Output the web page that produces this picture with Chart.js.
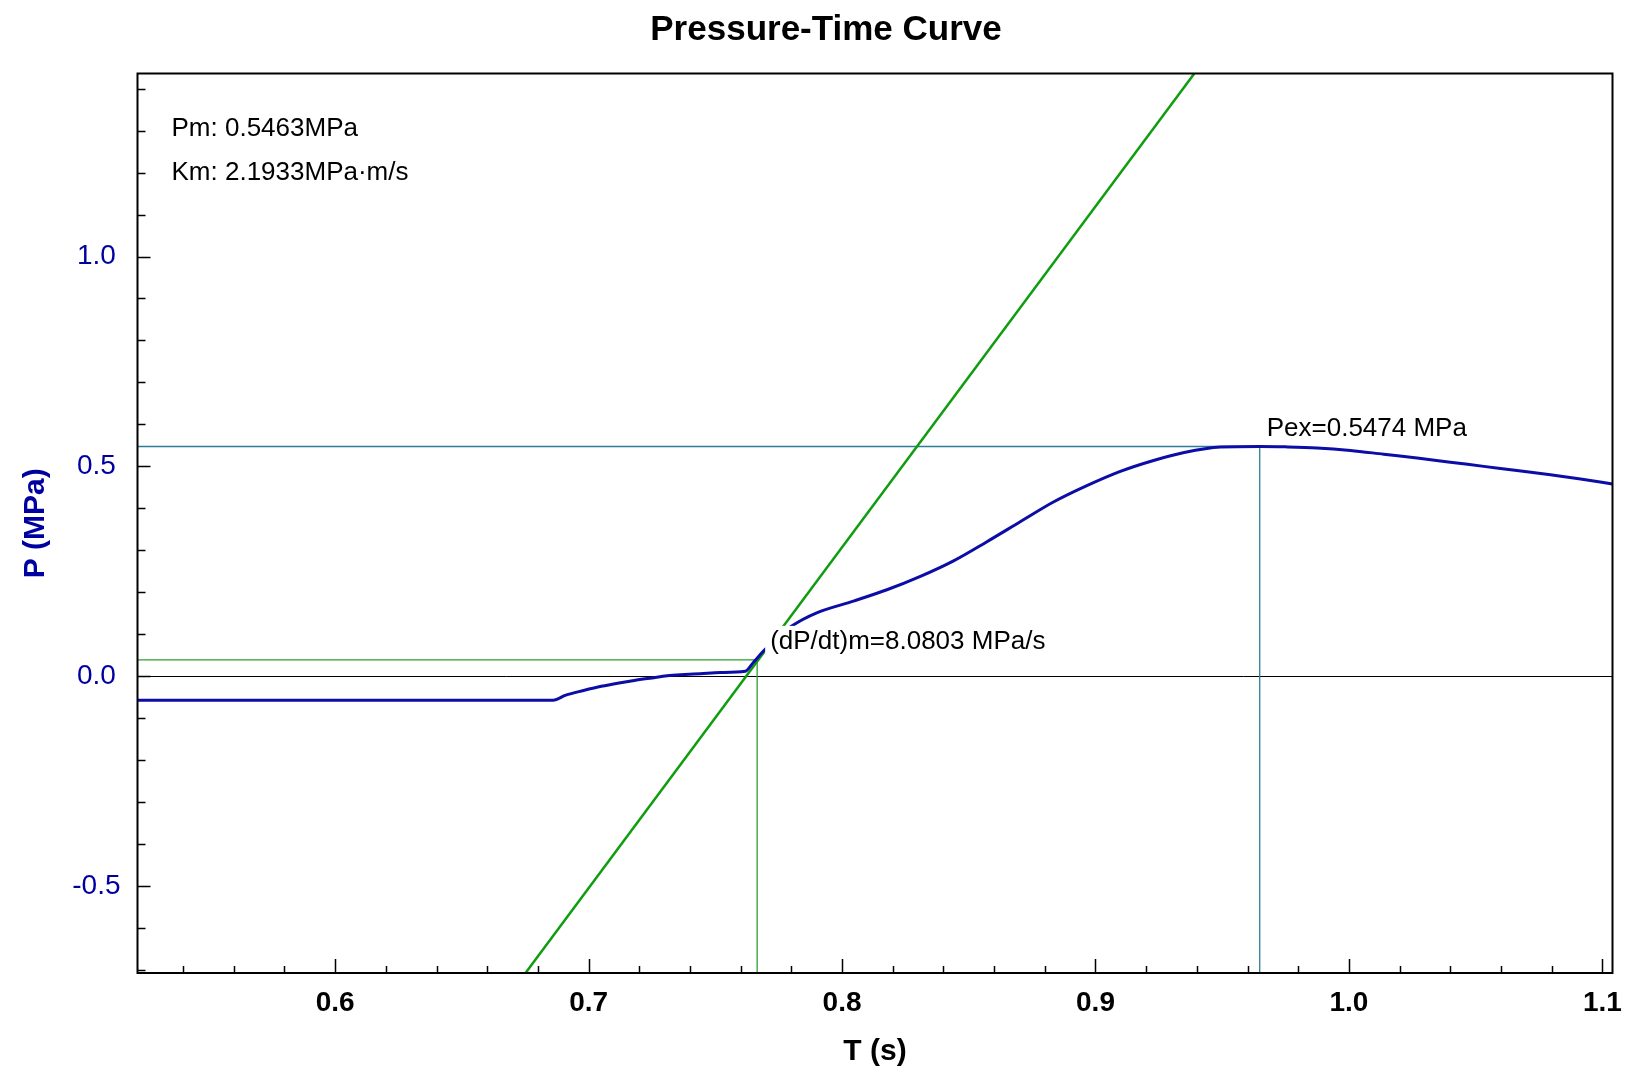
<!DOCTYPE html>
<html>
<head>
<meta charset="utf-8">
<script src="https://cdn.jsdelivr.net/npm/chart.js@4.4.1/dist/chart.umd.min.js"></script>
<style>
  html, body { margin: 0; padding: 0; background: #fff; }
  canvas { display: block; }
</style>
</head>
<body>
<canvas id="ptChart" width="1625" height="1074"></canvas>
<script>
// Pressure curve (T in s, P in MPa)
const time = [0.522, 0.56, 0.60, 0.64, 0.686, 0.691, 0.698, 0.705, 0.712, 0.718, 0.725, 0.731,
  0.738, 0.744, 0.752, 0.7618, 0.765, 0.769, 0.7745, 0.780, 0.790, 0.8045, 0.8177, 0.8309,
  0.844, 0.857, 0.8703, 0.8834, 0.8966, 0.9098, 0.9229, 0.935, 0.9493, 0.9648, 0.975, 0.9874,
  1.0006, 1.0137, 1.0269, 1.04, 1.0532, 1.0663, 1.0795, 1.0914, 1.104];
const pressure = [-0.057, -0.057, -0.057, -0.057, -0.057, -0.045, -0.034, -0.024, -0.016, -0.010,
  -0.004, 0.001, 0.004, 0.006, 0.009, 0.012, 0.033, 0.060, 0.092, 0.119, 0.151, 0.179, 0.206,
  0.238, 0.275, 0.320, 0.368, 0.415, 0.454, 0.488, 0.514, 0.533, 0.546, 0.5474, 0.5465, 0.544,
  0.538, 0.529, 0.520, 0.510, 0.500, 0.490, 0.480, 0.470, 0.458];

// tangent line at max rise rate (ends at the frame)
const tangentT = [0.6751, 0.939];
const tangentP = [-0.707, 1.436];

// marker points
const dpdtT = 0.7665, dpdtP = 0.039;
const peakT = 0.9648, peakP = 0.5474;

const xRange = [0.522, 1.104];
const yRange = [-0.707, 1.436];

const chartTitle = 'Pressure-Time Curve';
const infoLines = ['Pm: 0.5463MPa', 'Km: 2.1933MPa\u00b7m/s'];
const dpdtLabel = '(dP/dt)m=8.0803 MPa/s';
const peakLabel = 'Pex=0.5474 MPa';

const FONT = "'Liberation Sans', Arial, sans-serif";
Chart.defaults.font.family = FONT;

const isMultiple = (v, step) => Math.abs(v / step - Math.round(v / step)) < 1e-6;

function textBox(ctx, text, x, yMid) {
  const w = ctx.measureText(text).width;
  ctx.fillStyle = '#fff';
  ctx.fillRect(x - 5, yMid - 16, w + 10, 32);
  ctx.fillStyle = '#000';
  ctx.fillText(text, x, yMid);
}

const framePlugin = {
  id: 'frame',
  beforeDatasetsDraw(chart) {
    const { ctx, chartArea: a, scales: { y } } = chart;
    // zero line
    const y0 = Math.round(y.getPixelForValue(0)) + 0.5;
    ctx.save();
    ctx.strokeStyle = '#000';
    ctx.lineWidth = 1;
    ctx.beginPath();
    ctx.moveTo(a.left, y0);
    ctx.lineTo(a.right, y0);
    ctx.stroke();
    ctx.restore();
  },
  afterDatasetsDraw(chart) {
    const { ctx, chartArea: a, scales: { x, y } } = chart;
    ctx.save();
    // inward ticks
    ctx.strokeStyle = '#000';
    ctx.lineWidth = 1.5;
    ctx.beginPath();
    x.ticks.forEach(t => {
      const px = Math.round(x.getPixelForValue(t.value)) + 0.5;
      const len = isMultiple(t.value, 0.1) ? 14 : 7;
      ctx.moveTo(px, a.bottom);
      ctx.lineTo(px, a.bottom - len);
    });
    y.ticks.forEach(t => {
      const py = Math.round(y.getPixelForValue(t.value)) + 0.5;
      const len = isMultiple(t.value, 0.5) ? 13 : 8;
      ctx.moveTo(a.left, py);
      ctx.lineTo(a.left + len, py);
    });
    ctx.stroke();
    // frame
    ctx.lineWidth = 2;
    ctx.strokeRect(a.left, a.top, a.right - a.left, a.bottom - a.top);

    // title (sits left of the plot centre in the original)
    ctx.fillStyle = '#000';
    ctx.font = 'bold 35px ' + FONT;
    ctx.textAlign = 'center';
    ctx.textBaseline = 'middle';
    ctx.fillText(chartTitle, 826, 30);

    // annotations
    ctx.font = '26px ' + FONT;
    ctx.textAlign = 'left';
    infoLines.forEach((s, i) => textBox(ctx, s, a.left + 34, a.top + 55 + i * 44.5));
    textBox(ctx, dpdtLabel, x.getPixelForValue(dpdtT) + 13, y.getPixelForValue(dpdtP) - 18);
    textBox(ctx, peakLabel, x.getPixelForValue(peakT) + 7, y.getPixelForValue(peakP) - 18);
    ctx.restore();
  }
};

const curve = time.map((t, i) => ({ x: t, y: pressure[i] }));
const tangent = tangentT.map((t, i) => ({ x: t, y: tangentP[i] }));
const dpdtGuide = [
  { x: xRange[0], y: dpdtP }, { x: dpdtT, y: dpdtP }, { x: dpdtT, y: yRange[0] }
];
const peakGuide = [
  { x: xRange[0], y: peakP }, { x: peakT, y: peakP }, { x: peakT, y: yRange[0] }
];

new Chart(document.getElementById('ptChart'), {
  type: 'line',
  data: {
    datasets: [
      {
        data: curve,
        borderColor: '#0c0ca6',
        borderWidth: 3,
        pointRadius: 0,
        cubicInterpolationMode: 'monotone'
      },
      { data: tangent, borderColor: '#0f9d0f', borderWidth: 2.5, pointRadius: 0 },
      { data: dpdtGuide, borderColor: '#2f9e2f', borderWidth: 1.3, pointRadius: 0 },
      { data: peakGuide, borderColor: '#2c7c96', borderWidth: 1.3, pointRadius: 0 }
    ]
  },
  options: {
    responsive: false,
    animation: false,
    layout: { padding: { left: 0, right: 12.5, top: 73.5, bottom: 0 } },
    scales: {
      x: {
        type: 'linear',
        min: xRange[0],
        max: xRange[1],
        grid: { display: false, drawTicks: false },
        border: { display: false },
        ticks: {
          stepSize: 0.02,
          includeBounds: false,
          autoSkip: false,
          maxRotation: 0,
          padding: 13,
          color: '#000',
          font: { size: 28, weight: 'bold' },
          callback: v => isMultiple(v, 0.1) ? v.toFixed(1) : ''
        },
        title: {
          display: true,
          text: 'T (s)',
          color: '#000',
          font: { size: 30, weight: 'bold' },
          padding: { top: 0, bottom: 4 }
        },
        afterFit: s => { s.height = 101; s.paddingLeft = 0; s.paddingRight = 0; }
      },
      y: {
        min: yRange[0],
        max: yRange[1],
        grid: { display: false, drawTicks: false },
        border: { display: false },
        ticks: {
          stepSize: 0.1,
          includeBounds: false,
          autoSkip: false,
          crossAlign: 'center',
          padding: 17,
          color: '#0000a0',
          font: { size: 28 },
          callback: v => isMultiple(v, 0.5) ? v.toFixed(1) : ''
        },
        title: {
          display: true,
          text: 'P (MPa)',
          color: '#0000a0',
          font: { size: 30, weight: 'bold' },
          padding: { top: 18, bottom: 0 }
        },
        afterFit: s => { s.width = 137.5; s.paddingTop = 0; s.paddingBottom = 0; }
      }
    },
    plugins: {
      legend: { display: false },
      tooltip: { enabled: false },
      title: { display: false }
    }
  },
  plugins: [framePlugin]
});
</script>
</body>
</html>
